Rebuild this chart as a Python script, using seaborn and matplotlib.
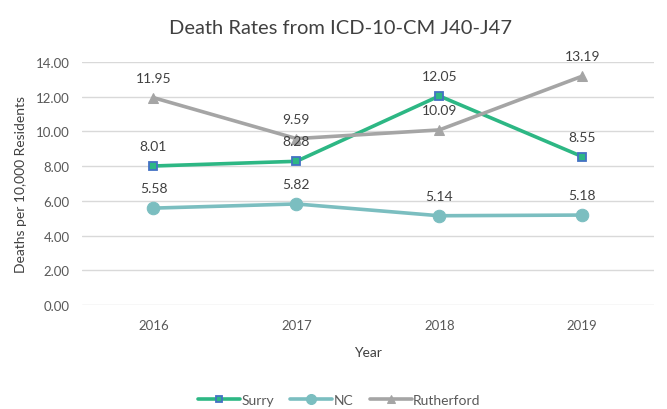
import matplotlib
matplotlib.use("Agg")
import matplotlib.pyplot as plt
import seaborn as sns
import pandas as pd
import numpy as np

years = ["2016", "2017", "2018", "2019"]
surry = [8.01, 8.28, 12.05, 8.55]
nc = [5.58, 5.82, 5.14, 5.18]
rutherford = [11.95, 9.59, 10.09, 13.19]
yticks = [0, 2, 4, 6, 8, 10, 12, 14]

sns.set_theme(style="white")
plt.rcParams['font.family'] = ['Lato', 'DejaVu Sans']

fig = plt.figure(figsize=(6.67, 4.10), dpi=100)
ax = fig.add_axes([0.123, 0.254, 0.857, 0.592])

pos = np.arange(len(years))
series = [
    ("Surry", surry, dict(color="#2DB784", marker="s", markersize=6, markerfacecolor="#2DB784",
                          markeredgecolor="#4472C4", markeredgewidth=1.3)),
    ("NC", nc, dict(color="#7BBEC0", marker="o", markersize=9, markerfacecolor="#7BBEC0",
                    markeredgecolor="#7BBEC0")),
    ("Rutherford", rutherford, dict(color="#A5A5A5", marker="^", markersize=7, markerfacecolor="#A5A5A5",
                                    markeredgecolor="#A5A5A5")),
]
for name, vals, kw in series:
    df = pd.DataFrame({"x": pos, "y": vals})
    sns.lineplot(data=df, x="x", y="y", ax=ax, label=name, linewidth=2.6, **kw)
    for xi, v in zip(pos, vals):
        ax.annotate(f"{v:.2f}", (xi, v), xytext=(0, 10), textcoords="offset points",
                    ha="center", va="bottom", fontsize=10, color="#404040")

ax.set_xlim(-0.5, len(years) - 0.5)
ax.set_ylim(0, 14)
ax.set_yticks(yticks)
ax.set_yticklabels([f"{t:.2f}" for t in yticks])
ax.set_xticks(pos)
ax.set_xticklabels(years)
ax.tick_params(axis="both", labelsize=9.5, colors="#595959", length=0)
ax.tick_params(axis="y", pad=9)
ax.tick_params(axis="x", pad=10)
ax.grid(axis="y", color="#D9D9D9", linewidth=1)
ax.set_axisbelow(True)
for s in ax.spines.values():
    s.set_visible(False)

ax.set_xlabel("Year", fontsize=10, color="#404040", labelpad=11)
ax.set_ylabel("Deaths per 10,000 Residents", fontsize=10, color="#404040", labelpad=6)
fig.text(0.51, 0.93, "Death Rates from ICD-10-CM J40-J47", ha="center", va="center",
         fontsize=14.5, color="#404040")

leg = ax.legend(loc="center", bbox_to_anchor=(0.45, -0.39), ncol=3, frameon=False,
                fontsize=10, handlelength=3.0, columnspacing=1.2, handletextpad=0.1,
                markerscale=0.8, labelcolor="#595959")

fig.savefig("out.png", dpi=100)
